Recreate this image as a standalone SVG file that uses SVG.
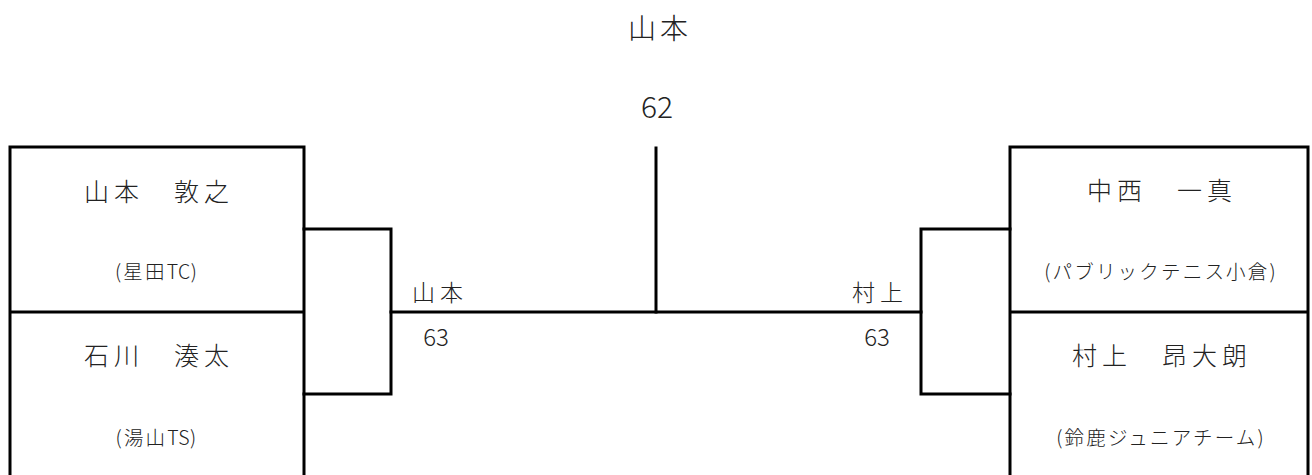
<svg xmlns="http://www.w3.org/2000/svg" width="1312" height="475" viewBox="0 0 1312 475">
<style>
.ln{fill:none;stroke:#000;stroke-width:3;stroke-linecap:square}
text{font-family:"Noto Sans CJK JP","Noto Sans",sans-serif;font-weight:300;fill:#222;dominant-baseline:central;text-anchor:middle}
.nm{font-size:25px;letter-spacing:5px}
.cl{font-size:19.5px;letter-spacing:2.2px}
.la{letter-spacing:0.5px}
.hd{font-size:28px;letter-spacing:4px}
.hn{font-size:30px}
.sc{font-size:23px;letter-spacing:5px}
.sn{font-size:24px}
</style>
<rect width="1312" height="475" fill="#fff"/>
<g id="connectors">
<path class="ln" d="M304 229 H391 V394 H304"/>
<path class="ln" d="M391 312 H921"/>
<path class="ln" d="M656 148 V312"/>
<path class="ln" d="M1010 229 H921 V394 H1010"/>
</g>
<g id="p1">
<path class="ln" d="M10 480 V147 H304 V480 M10 312 H304"/>
<text class="nm" x="159" y="190">山本　敦之</text>
<text class="cl" x="157" y="270">(星田<tspan class="la">TC</tspan>)</text>
</g>
<g id="p2">
<text class="nm" x="159" y="354">石川　湊太</text>
<text class="cl" x="157" y="436">(湯山<tspan class="la">TS</tspan>)</text>
</g>
<g id="p3">
<path class="ln" d="M1010 480 V147 H1308 V480 M1010 312 H1308"/>
<text class="nm" x="1162" y="189">中西　一真</text>
<text class="cl" x="1161" y="270">(パブリックテニス小倉)</text>
</g>
<g id="p4">
<text class="nm" x="1162" y="354">村上　昂大朗</text>
<text class="cl" x="1161" y="436">(鈴鹿ジュニアチーム)</text>
</g>
<g id="semi1">
<text class="sc" x="440" y="291">山本</text>
<text class="sn" x="436" y="335">63</text>
</g>
<g id="semi2">
<text class="sc" x="880" y="291">村上</text>
<text class="sn" x="877" y="335">63</text>
</g>
<g id="final">
<text class="hd" x="660" y="27">山本</text>
<text class="hn" x="657" y="105">62</text>
</g>
</svg>
